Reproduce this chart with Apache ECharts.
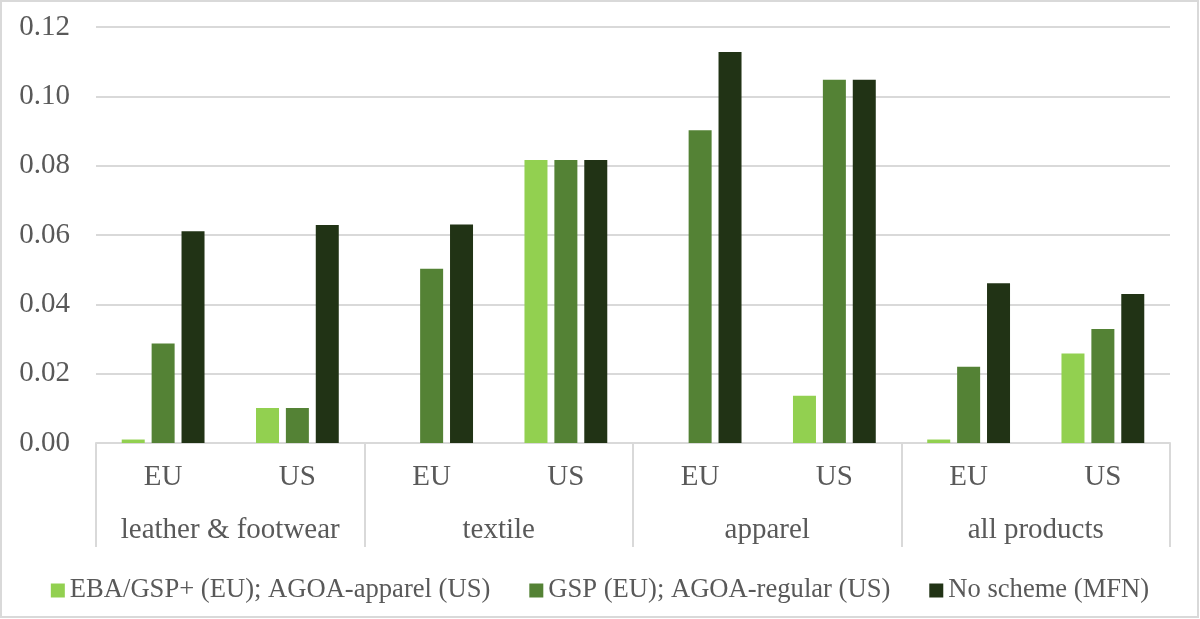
<!DOCTYPE html>
<html>
<head>
<meta charset="utf-8">
<title>Tariff by scheme</title>
<script src="https://cdn.jsdelivr.net/npm/echarts@6/dist/echarts.min.js"></script>
<style>
  html, body { margin: 0; padding: 0; background: #fff; }
  #chart { width: 1200px; height: 619px; }
</style>
</head>
<body>
<div id="chart"></div>
<script>
// 数据
const regions = ['EU', 'US', 'EU', 'US', 'EU', 'US', 'EU', 'US'];
const groups = ['leather & footwear', 'textile', 'apparel', 'all products'];
const seriesNames = ['EBA/GSP+ (EU); AGOA-apparel (US)', 'GSP (EU); AGOA-regular (US)', 'No scheme (MFN)'];
const ebaValues = [0.001, 0.0101, 0, 0.0816, 0, 0.0136, 0.001, 0.0258];
const gspValues = [0.0287, 0.0101, 0.0503, 0.0816, 0.0902, 0.1048, 0.022, 0.0329];
const mfnValues = [0.0611, 0.0629, 0.063, 0.0816, 0.1128, 0.1048, 0.0461, 0.043];
const yTicks = { min: 0, max: 0.12, interval: 0.02 };

const fontFamily = "'Liberation Serif', 'Times New Roman', serif";
const textColor = '#595959';
const lineColor = '#d9d9d9';
const colors = ['#92d050', '#548235', '#213315'];

const chart = echarts.init(document.getElementById('chart'));

function barSeries(name, data, color) {
  return {
    name: name,
    type: 'bar',
    xAxisIndex: 0,
    data: data,
    barWidth: 23,
    barGap: '30%',
    itemStyle: { color: color }
  };
}

chart.setOption({
  animation: false,
  textStyle: { fontFamily: fontFamily },
  color: colors,
  grid: {
    left: 96,
    right: 30,
    top: 27,
    bottom: 176
  },
  // 外框
  graphic: [{
    type: 'rect',
    shape: { x: 1, y: 1, width: 1197, height: 616 },
    style: { fill: 'none', stroke: lineColor, lineWidth: 2 }
  }],
  legend: {
    top: 572,
    left: 'center',
    itemWidth: 14,
    itemHeight: 14,
    itemGap: 39,
    icon: 'rect',
    textStyle: {
      color: textColor,
      fontFamily: fontFamily,
      fontSize: 26.6
    },
    data: seriesNames
  },
  xAxis: [{
    type: 'category',
    data: regions,
    position: 'bottom',
    axisLine: { lineStyle: { color: lineColor, width: 2 } },
    axisTick: { show: false },
    axisLabel: {
      interval: 0,
      color: textColor,
      fontFamily: fontFamily,
      fontSize: 29,
      margin: 20
    }
  }, {
    // 分组标签
    type: 'category',
    data: groups,
    position: 'bottom',
    axisLine: { show: false },
    axisTick: {
      show: true,
      interval: 0,
      length: 104,
      lineStyle: { color: lineColor, width: 2 }
    },
    axisLabel: {
      interval: 0,
      color: textColor,
      fontFamily: fontFamily,
      fontSize: 29,
      margin: 73
    }
  }],
  yAxis: {
    type: 'value',
    min: yTicks.min,
    max: yTicks.max,
    interval: yTicks.interval,
    axisLine: { show: false },
    axisTick: { show: false },
    splitLine: { lineStyle: { color: lineColor, width: 2 } },
    axisLabel: {
      color: textColor,
      fontFamily: fontFamily,
      fontSize: 29,
      margin: 26,
      padding: [6, 0, 0, 0],
      formatter: (v) => v.toFixed(2)
    }
  },
  series: [
    barSeries(seriesNames[0], ebaValues, colors[0]),
    barSeries(seriesNames[1], gspValues, colors[1]),
    barSeries(seriesNames[2], mfnValues, colors[2])
  ]
});
</script>
</body>
</html>
